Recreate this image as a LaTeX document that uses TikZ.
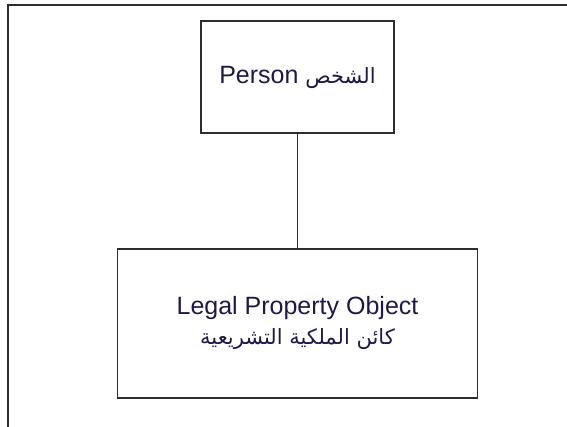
\documentclass[tikz,border=0pt]{standalone}
\usepackage{fontspec}
\setmainfont{Liberation Sans}
\newfontfamily\arabicfont[Script=Arabic]{DejaVu Sans}
\TeXXeTstate=1
\usepackage{xcolor}
\usepackage{tikz}
\usetikzlibrary{positioning}

\definecolor{framegray}{RGB}{45,45,45}
\definecolor{textnavy}{RGB}{30,25,70}

\begin{document}
\begin{tikzpicture}[x=1pt, y=-1pt,
    entity/.style={draw=framegray, line width=1.8pt, align=center,
                   font=\fontsize{25}{30}\selectfont, text=textnavy, inner sep=0pt},
    link/.style={draw=framegray, line width=1.6pt},
  ]
    \useasboundingbox (0,0) rectangle (567,427);

    % outer frame (only top and left edges visible)
    \draw[framegray, line width=1.6pt] (8,427) -- (8,5) -- (567,5);

    \node[entity, minimum width=193pt, minimum height=112pt] (person) at (297.5,77)
      {Person {\arabicfont\fontsize{21}{26}\selectfont\beginR الشخص\endR}};
    \node[entity, minimum width=360pt, minimum height=149pt] (legal) at (297.5,323.5)
      {Legal Property Object\\{\arabicfont\fontsize{21}{26}\selectfont\beginR كائن الملكية التشريعية\endR}};

    % association
    \draw[link] (person) -- (legal);
\end{tikzpicture}
\end{document}
